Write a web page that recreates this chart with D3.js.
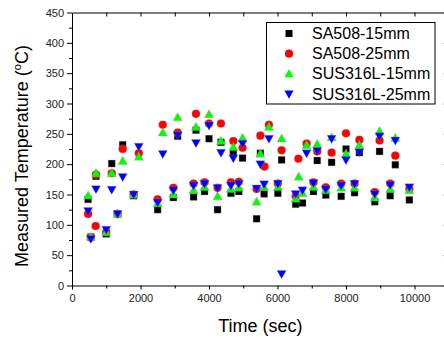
<!DOCTYPE html>
<html>
<head>
<meta charset="utf-8">
<script src="https://cdn.jsdelivr.net/npm/d3@7"></script>
<style>
  body { margin: 0; background: #fff; }
  svg { display: block; font-family: "Liberation Sans", Arial, sans-serif; }
</style>
</head>
<body>
<svg id="chart" width="444" height="339"></svg>
<script>
// series: [time (sec), temperature (degC)]
const sa508_15 = [[470,142],[550,80],[700,180],[1000,85],[1160,201],[1330,118],[1480,232],[1800,148],
  [2500,125],[2960,145],[3085,246],[3550,146],[3620,256],[3870,155],[4000,242],[4250,125],[4350,236],
  [4640,152],[4710,218],[4870,155],[4980,210],[5390,110],[5500,218],[5610,151],[6010,152],[6120,207],
  [6530,134],[6730,136],[7050,155],[7160,206],[7410,149],[7580,203],[7860,147],[8000,225],[8250,153],
  [8390,219],[8840,138],[8980,221],[9290,148],[9440,199],[9850,141]];

const sa508_25 = [[470,118],[550,79],[690,98],[700,183],[1000,88],[1160,185],[1330,118],[1480,225],
  [1800,150],[1950,218],[2500,142],[2650,265],[2960,161],[3085,252],[3550,168],[3620,283],[3870,170],
  [4000,267],[4250,161],[4350,267],[4640,170],[4710,238],[4870,171],[4980,227],[5390,159],[5500,247],
  [5620,196],[5750,265],[6010,168],[6120,223],[6530,147],[6610,209],[6850,234],[7050,170],[7160,221],
  [7410,162],[7580,219],[7860,168],[8000,251],[8250,168],[8390,240],[8840,154],[8980,239],[9290,168],
  [9440,214],[9850,159]];

const sus316_15 = [[470,148],[550,80],[700,185],[1000,88],[1160,185],[1330,118],[1480,205],[1800,150],
  [1950,212],[2500,135],[2650,252],[2960,150],[3085,277],[3550,157],[3620,261],[3870,162],[4000,282],
  [4250,147],[4350,238],[4640,159],[4710,228],[4870,161],[4980,243],[5390,138],[5500,217],[5610,162],
  [5750,261],[6010,162],[6120,242],[6530,143],[6620,179],[6730,152],[6850,231],[7050,162],[7160,233],
  [7410,157],[7580,244],[7860,161],[8000,217],[8250,161],[8390,231],[8840,145],[8980,254],[9290,159],
  [9440,243],[9850,157]];

const sus316_25 = [[470,123],[550,77],[700,159],[1000,92],[1160,158],[1330,118],[1480,179],[1800,150],
  [1950,229],[2500,137],[2650,217],[2960,157],[3085,248],[3550,165],[3620,235],[3870,168],[4000,264],
  [4250,161],[4350,219],[4640,165],[4710,210],[4870,168],[4980,234],[5390,160],[5500,200],[5610,167],
  [5750,242],[6010,168],[6120,19],[6530,151],[6730,157],[6850,218],[7050,169],[7160,222],[7410,159],
  [7580,242],[7860,165],[8000,207],[8250,168],[8390,220],[8840,151],[8980,246],[9290,166],[9440,239],
  [9850,162]];

const seriesNames = ["SA508-15mm", "SA508-25mm", "SUS316L-15mm", "SUS316L-25mm"];
const xTicks = [0, 2000, 4000, 6000, 8000, 10000];
const yTicks = [0, 50, 100, 150, 200, 250, 300, 350, 400, 450];

const series = [
  { name: seriesNames[0], data: sa508_15, color: "#000000", shape: "square" },
  { name: seriesNames[1], data: sa508_25, color: "#ff0000", shape: "circle" },
  { name: seriesNames[2], data: sus316_15, color: "#00ff00", shape: "up" },
  { name: seriesNames[3], data: sus316_25, color: "#0000ff", shape: "down" }
];

const plotLeft = 72, plotRight = 448.75, plotTop = 12.5, plotBottom = 285.5;

const svg = d3.select("#chart");

const x = d3.scaleLinear().domain([0, 11000]).range([plotLeft, plotRight]);
const y = d3.scaleLinear().domain([0, 450]).range([plotBottom, plotTop]);

// marker shapes
function shapePath(shape) {
  if (shape === "up") return "M0,-4.8L4.6,3.4L-4.6,3.4Z";
  if (shape === "down") return "M0,4.8L4.6,-3.4L-4.6,-3.4Z";
  if (shape === "square") return "M-3.5,-3.5H3.5V3.5H-3.5Z";
  return d3.symbol(d3.symbolCircle, 52)();
}

// points
series.forEach(s => {
  svg.append("g")
    .selectAll("path")
    .data(s.data)
    .enter()
    .append("path")
    .attr("d", shapePath(s.shape))
    .attr("transform", d => `translate(${x(d[0])},${y(d[1])})`)
    .attr("fill", s.color)
    .attr("stroke", "#9a9a9a")
    .attr("stroke-opacity", 0.5)
    .attr("stroke-width", 0.6);
});

// axes
const tickFont = g => g.selectAll("text")
  .attr("font-size", 11)
  .attr("fill", "#222")
  .attr("font-family", "'Liberation Sans', Arial, sans-serif");

svg.append("g")
  .attr("transform", `translate(0,${plotBottom})`)
  .call(d3.axisBottom(x).tickValues(xTicks).tickSize(4).tickPadding(5).tickFormat(d3.format("d")).tickSizeOuter(0))
  .call(tickFont);

svg.append("g")
  .attr("transform", `translate(0,${plotBottom})`)
  .call(d3.axisBottom(x).tickValues([1000, 3000, 5000, 7000, 9000]).tickSize(3).tickFormat("").tickSizeOuter(0))
  .call(g => g.select(".domain").remove());

svg.append("g")
  .attr("transform", `translate(${plotLeft},0)`)
  .call(d3.axisLeft(y).tickValues(yTicks).tickSize(5).tickPadding(3).tickSizeOuter(0))
  .call(tickFont);

svg.append("g")
  .attr("transform", `translate(${plotLeft},0)`)
  .call(d3.axisLeft(y).tickValues(d3.range(25, 450, 50)).tickSize(3).tickFormat("").tickSizeOuter(0))
  .call(g => g.select(".domain").remove());

svg.append("g")
  .attr("transform", `translate(0,${plotTop})`)
  .call(d3.axisBottom(x).tickValues(d3.range(1000, 11000, 1000)).tickSize(4).tickFormat("").tickSizeOuter(0));

svg.append("g")
  .attr("transform", `translate(${plotRight},0)`)
  .call(d3.axisRight(y).tickValues(yTicks).tickSize(-5).tickFormat("").tickSizeOuter(0));

svg.selectAll(".domain, .tick line").attr("stroke", "#000");

// axis titles
svg.append("text")
  .attr("x", (plotLeft + plotRight) / 2)
  .attr("y", 332)
  .attr("text-anchor", "middle")
  .attr("font-size", 18)
  .text("Time (sec)");

const yTitle = svg.append("text")
  .attr("transform", "translate(28,156) rotate(-90)")
  .attr("text-anchor", "middle")
  .attr("font-size", 18);
yTitle.append("tspan").text("Measured Temperature (");
yTitle.append("tspan").attr("font-size", 11).attr("dy", -7).text("o");
yTitle.append("tspan").attr("dy", 7).text("C)");

// legend
const legend = svg.append("g");
legend.append("rect")
  .attr("x", 266.5).attr("y", 22.5)
  .attr("width", 168.5).attr("height", 81.5)
  .attr("fill", "#fff")
  .attr("stroke", "#000");

const legendY = d3.scalePoint().domain(seriesNames).range([33.5, 94]);

series.forEach(s => {
  legend.append("path")
    .attr("d", shapePath(s.shape))
    .attr("transform", `translate(289,${legendY(s.name)})`)
    .attr("fill", s.color);
  legend.append("text")
    .attr("x", 312)
    .attr("y", legendY(s.name) + 5.5)
    .attr("font-size", 16)
    .text(s.name);
});
</script>
</body>
</html>
